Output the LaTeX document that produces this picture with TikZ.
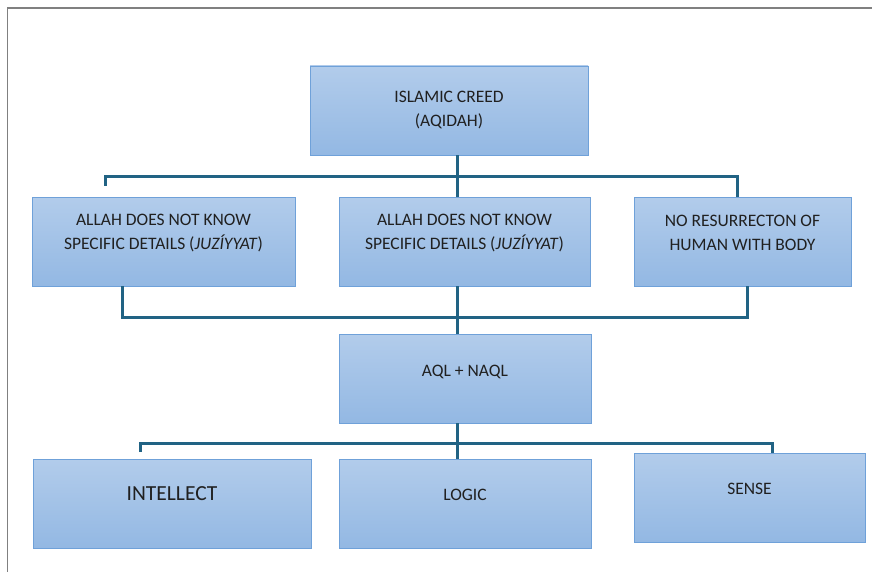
\documentclass[tikz,border=0pt]{standalone}
\usepackage{fontspec}
\setmainfont{Carlito}
\usepackage[usenames,dvipsnames]{xcolor}
\usepackage{tikz}
\usetikzlibrary{calc}

\definecolor{boxtop}{HTML}{B2CCEB}
\definecolor{boxbot}{HTML}{93B8E3}
\definecolor{boxline}{HTML}{6FA1D9}
\definecolor{linkcol}{HTML}{216384}
\definecolor{txtcol}{HTML}{202020}

\tikzset{
  box/.style={draw=boxline, line width=0.8pt, top color=boxtop, bottom color=boxbot,
    minimum height=89pt, inner sep=0pt},
  txt/.style={align=center, text=txtcol, font=\fontsize{17.5}{24}\selectfont},
  link/.style={draw=linkcol, line width=3pt},
}

\begin{document}
\begin{tikzpicture}[x=1pt, y=-1pt]
\useasboundingbox (0,0) rectangle (872,572);

% frame
\draw[gray, line width=1.5pt] (7.5,572) -- (7.5,8) -- (872,8);

% boxes
\node[box, minimum width=278pt] (creed) at (449,110.5) {};
\node[box, minimum width=263pt] (b1) at (163.5,241.5) {};
\node[box, minimum width=251pt] (b2) at (464.5,241.5) {};
\node[box, minimum width=217pt] (b3) at (742.5,241.5) {};
\node[box, minimum width=252pt] (aql) at (465,378.5) {};
\node[box, minimum width=278pt] (intel) at (172,503.5) {};
\node[box, minimum width=252pt] (logic) at (465,503.5) {};
\node[box, minimum width=231pt] (sense) at (749.5,497.5) {};

% texts
\node[txt] (tcreed) at (449,110) {ISLAMIC CREED\\(AQIDAH)};
\node[txt] (tb1) at (163.5,233) {ALLAH DOES NOT KNOW\\SPECIFIC DETAILS (\textit{JUZÍYYAT})};
\node[txt] (tb2) at (464.5,233) {ALLAH DOES NOT KNOW\\SPECIFIC DETAILS (\textit{JUZÍYYAT})};
\node[txt] (tb3) at (742.5,233) {NO RESURRECTON OF\\HUMAN WITH BODY};
\node[txt] (taql) at (465,372) {AQL + NAQL};
\node[txt, font=\fontsize{21.5}{24}\selectfont] (tintel) at (172,494) {INTELLECT};
\node[txt] (tlogic) at (465,495) {LOGIC};
\node[txt] (tsense) at (749.5,489) {SENSE};

% connectors
\coordinate (j1) at (457,177);
\coordinate (j2) at (457,317);
\coordinate (j3) at (457,443);
\coordinate (e1) at (105,186);
\coordinate (e3) at (140,452);

\draw[link] (creed.south -| j1) -- (b2.north -| j1);
\draw[link] (e1) |- ($(b3.north |- j1)+(-5.5,0)$) -- ($(b3.north)+(-5.5,0)$);

\draw[link] (b2.south -| j2) -- (aql.north -| j2);
\draw[link] ($(b1.south)+(-41.5,0)$) |- ($(b3.south |- j2)+(4.5,0)$) -- ($(b3.south)+(4.5,0)$);

\draw[link] (aql.south -| j3) -- (logic.north -| j3);
\draw[link] (e3) |- ($(sense.north |- j3)+(22.5,0)$) -- ($(sense.north)+(22.5,0)$);

\end{tikzpicture}
\end{document}
